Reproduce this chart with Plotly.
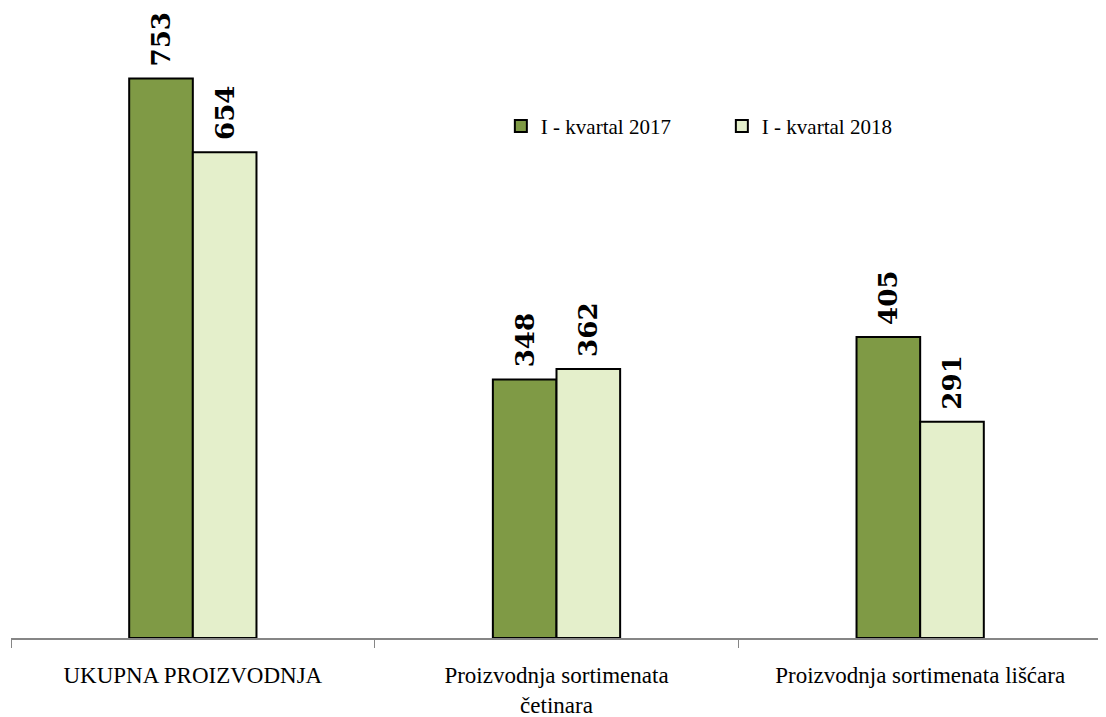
import plotly.graph_objects as go

categories = ["UKUPNA PROIZVODNJA", "Proizvodnja sortimenata<br>četinara", "Proizvodnja sortimenata lišćara"]
series_names = ["I - kvartal 2017", "I - kvartal 2018"]
values_2017 = [753, 348, 405]
values_2018 = [654, 362, 291]
colors = ["#7F9A45", "#E4EFCB"]

fig = go.Figure()
for name, vals, col in zip(series_names, [values_2017, values_2018], colors):
    fig.add_trace(go.Bar(
        x=categories, y=vals, name=name,
        marker=dict(color=col, line=dict(color="#000000", width=2)),
        text=["\u00a0" + str(v) for v in vals], textposition="outside", textangle=-90,
        textfont=dict(family="DejaVu Serif", size=28, color="#000000"),
        texttemplate="<b>%{text}</b>", cliponaxis=False,
    ))

fig.update_layout(
    width=1098, height=709,
    margin=dict(l=3, r=4, t=0, b=79, autoexpand=False),
    paper_bgcolor="white", plot_bgcolor="white",
    barmode="group", bargap=0.65, bargroupgap=0,
    showlegend=True,
    legend=dict(orientation="h", x=0.449, y=0.812, xanchor="left", yanchor="middle",
                font=dict(family="Liberation Serif", size=21, color="#000000"),
                entrywidth=176, entrywidthmode="pixels", itemwidth=30,
                bgcolor="rgba(0,0,0,0)"),
    xaxis=dict(showline=True, linecolor="#868686", linewidth=1.5, ticks="outside",
               tickcolor="#868686", ticklen=8, tickson="boundaries", automargin=False,
               ticklabelstandoff=16,
               tickfont=dict(family="Liberation Serif", size=23, color="#000000"),
               showgrid=False),
    yaxis=dict(range=[0, 848], visible=False, showgrid=False, automargin=False),
    uniformtext=dict(mode=False),
)
fig.write_html("out.html")
